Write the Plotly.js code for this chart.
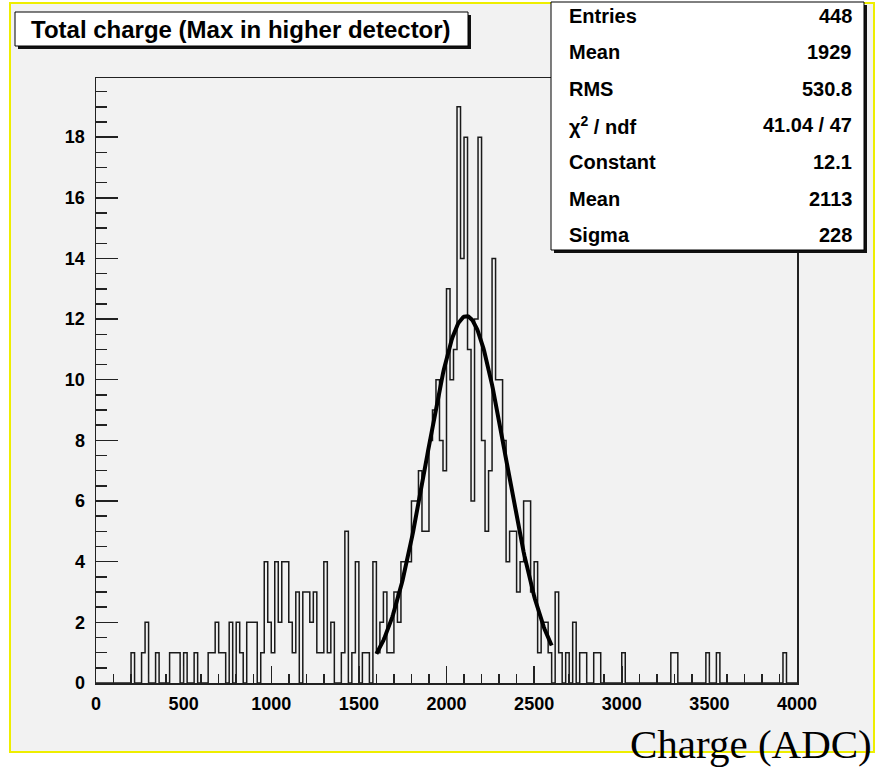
<!DOCTYPE html>
<html>
<head>
<meta charset="utf-8">
<script src="https://cdn.plot.ly/plotly-3.0.1.min.js"></script>
<style>
  html, body { margin: 0; padding: 0; background: #ffffff; }
  #chart { width: 875px; height: 775px; }
</style>
</head>
<body>
<div id="chart"></div>
<script>
// ---------------- data ----------------
const binStart = 0;
const binWidth = 20;
// counts per 20-ADC bin, 0..4000 (200 bins)
const counts = [
  0,0,0,0,0,0,0,0,0,0,
  1,0,0,1,2,0,0,1,0,0,
  0,1,1,1,0,1,0,0,1,0,
  0,0,1,1,2,1,1,0,2,0,
  2,1,0,2,2,2,0,1,4,2,
  1,4,2,4,4,2,1,3,0,3,
  3,2,3,1,1,4,1,2,0,0,
  1,5,0,1,4,0,1,1,0,4,
  1,2,3,1,1,3,2,4,4,4,
  6,6,7,5,5,8,9,10,8,7,
  13,10,11,19,14,18,11,6,12,18,
  8,5,7,14,10,10,8,4,5,5,
  3,4,6,6,3,4,1,2,2,1,
  0,3,1,0,1,0,2,0,1,1,
  0,0,1,1,0,0,0,0,0,0,
  1,0,0,0,0,0,0,0,0,0,
  0,0,0,0,1,1,0,0,0,0,
  0,0,0,0,1,0,0,1,0,0,
  0,0,0,0,0,0,0,0,0,0,
  0,0,0,0,0,0,1,0,0,0
];
const xTickVals = [0, 500, 1000, 1500, 2000, 2500, 3000, 3500, 4000];
const yTickVals = [0, 2, 4, 6, 8, 10, 12, 14, 16, 18];
const fitParams = [12.1, 2113, 228];   // Constant, Mean, Sigma
const fitRange = [1600, 2600];
const chartTitle = "Total charge (Max in higher detector)";
const xLabel = "Charge (ADC)";
const statLabels = ["Entries", "Mean", "RMS", "\u03C7<sup>2</sup> / ndf", "Constant", "Mean", "Sigma"];
const statValues = ["448", "1929", "530.8", "41.04 / 47", "12.1", "2113", "228"];

// ---------------- build traces ----------------
const edges = counts.map((c, i) => binStart + i * binWidth);
edges.push(binStart + counts.length * binWidth);
const stepY = counts.concat([counts[counts.length - 1]]);

const fitX = [], fitY = [];
const nFit = 200;
for (let k = 0; k <= nFit; k++) {
  const x = fitRange[0] + (fitRange[1] - fitRange[0]) * k / nFit;
  fitX.push(x);
  fitY.push(fitParams[0] * Math.exp(-0.5 * Math.pow((x - fitParams[1]) / fitParams[2], 2)));
}

const histTrace = {
  x: edges, y: stepY, type: 'scatter', mode: 'lines',
  line: { shape: 'hv', color: '#1a1a1a', width: 1.5 },
  hoverinfo: 'skip'
};
const fitTrace = {
  x: fitX, y: fitY, type: 'scatter', mode: 'lines',
  line: { color: '#000000', width: 4 },
  hoverinfo: 'skip'
};

// ---------------- layout ----------------
const W = 875, H = 775;
const mL = 96, mR = 78, mT = 78, mB = 92;
const pw = W - mL - mR, ph = H - mT - mB;
const PX = p => (p - mL) / pw;
const PY = p => (H - mB - p) / ph;

const tickFont = { family: 'Liberation Sans, Arial, sans-serif', size: 18, color: '#000', weight: 'bold' };
const statFont = { family: 'Liberation Sans, Arial, sans-serif', size: 20, color: '#000', weight: 'bold' };

const shapes = [
  // canvas area with yellow border
  { type: 'rect', xref: 'paper', yref: 'paper', layer: 'below',
    x0: PX(10), x1: PX(874), y0: PY(752), y1: PY(3),
    fillcolor: '#f2f2f2', line: { color: '#eeee00', width: 2 } },
  // title box shadow + box
  { type: 'rect', xref: 'paper', yref: 'paper',
    x0: PX(18), x1: PX(471), y0: PY(49), y1: PY(15),
    fillcolor: '#111', line: { width: 0 } },
  { type: 'rect', xref: 'paper', yref: 'paper',
    x0: PX(15), x1: PX(468), y0: PY(46), y1: PY(12),
    fillcolor: '#ffffff', line: { color: '#000', width: 1 } },
  // stats box shadow + box
  { type: 'rect', xref: 'paper', yref: 'paper',
    x0: PX(554), x1: PX(867), y0: PY(253), y1: PY(5),
    fillcolor: '#111', line: { width: 0 } },
  { type: 'rect', xref: 'paper', yref: 'paper',
    x0: PX(551), x1: PX(864), y0: PY(250), y1: PY(2),
    fillcolor: '#ffffff', line: { color: '#000', width: 1 } }
];

const annotations = [
  { xref: 'paper', yref: 'paper', x: PX(241), y: PY(29), text: '<b>' + chartTitle + '</b>',
    showarrow: false, xanchor: 'center', yanchor: 'middle',
    font: { family: 'Liberation Sans, Arial, sans-serif', size: 24, color: '#000' } },
  { xref: 'paper', yref: 'paper', x: PX(874), y: PY(744), text: xLabel,
    showarrow: false, xanchor: 'right', yanchor: 'middle',
    font: { family: 'Liberation Serif, Times New Roman, serif', size: 41, color: '#000' } }
];
const rowTop = 16, rowStep = 36.5;
statLabels.forEach((lab, i) => {
  const yy = PY(rowTop + i * rowStep);
  annotations.push({ xref: 'paper', yref: 'paper', x: PX(567), y: yy, text: lab,
    showarrow: false, xanchor: 'left', yanchor: 'middle', font: statFont });
  annotations.push({ xref: 'paper', yref: 'paper', x: PX(854), y: yy, text: statValues[i],
    showarrow: false, xanchor: 'right', yanchor: 'middle', font: statFont });
});

const layout = {
  width: W, height: H,
  margin: { l: mL, r: mR, t: mT, b: mB, pad: 0 },
  paper_bgcolor: '#ffffff',
  plot_bgcolor: '#f2f2f2',
  showlegend: false,
  xaxis: {
    range: [0, 4000], tickvals: xTickVals, ticktext: xTickVals.map(String),
    ticks: 'inside', ticklen: 17, tickwidth: 1.5, tickcolor: '#222',
    minor: { dtick: 100, tick0: 0, ticks: 'inside', ticklen: 9, tickwidth: 1.5, tickcolor: '#222', showgrid: false },
    showline: true, linecolor: '#222', linewidth: 1.5, mirror: true,
    showgrid: false, zeroline: false, tickfont: tickFont, ticklabelstandoff: 4
  },
  yaxis: {
    range: [0, 19.95], tickvals: yTickVals, ticktext: yTickVals.map(String),
    ticks: 'inside', ticklen: 22, tickwidth: 1.5, tickcolor: '#222',
    minor: { dtick: 0.5, tick0: 0, ticks: 'inside', ticklen: 11, tickwidth: 1.5, tickcolor: '#222', showgrid: false },
    showline: true, linecolor: '#222', linewidth: 1.5, mirror: true,
    showgrid: false, zeroline: false, tickfont: tickFont, ticklabelstandoff: 6
  },
  shapes: shapes,
  annotations: annotations
};

Plotly.newPlot('chart', [histTrace, fitTrace], layout, { staticPlot: true, displayModeBar: false });
</script>
</body>
</html>
